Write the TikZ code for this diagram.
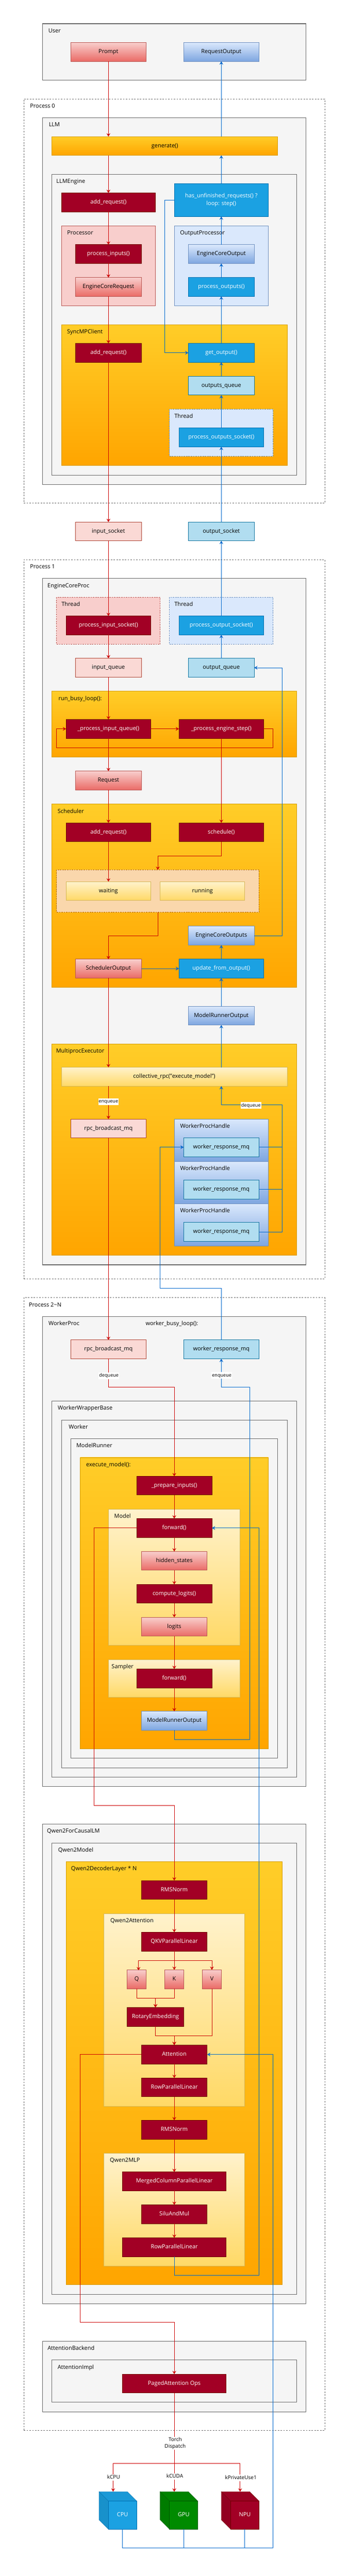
\documentclass[tikz,border=0pt]{standalone}
\usepackage{fontspec}
\setmainfont{Open Sans}
\usetikzlibrary{arrows.meta}

\definecolor{grayfill}{HTML}{F5F5F5}
\definecolor{graydraw}{HTML}{666666}
\definecolor{redtop}{HTML}{F8CECC}
\definecolor{redbot}{HTML}{EA6B66}
\definecolor{reddraw}{HTML}{B85450}
\definecolor{bluetop}{HTML}{DAE8FC}
\definecolor{bluebot}{HTML}{7EA6E0}
\definecolor{bluedraw}{HTML}{6C8EBF}
\definecolor{orgtop}{HTML}{FFCD28}
\definecolor{orgbot}{HTML}{FFA500}
\definecolor{orgdraw}{HTML}{D79B00}
\definecolor{yeltop}{HTML}{FFF2CC}
\definecolor{yelbot}{HTML}{FFD966}
\definecolor{yeldraw}{HTML}{D6B656}
\definecolor{crimson}{HTML}{A20025}
\definecolor{crimsondraw}{HTML}{6F0000}
\definecolor{cyanfill}{HTML}{1BA1E2}
\definecolor{cyandraw}{HTML}{006EAF}
\definecolor{skyfill}{HTML}{B1DDF0}
\definecolor{skydraw}{HTML}{10739E}
\definecolor{rosefill}{HTML}{FAD9D5}
\definecolor{rosedraw}{HTML}{AE4132}
\definecolor{peachfill}{HTML}{FAD7AC}
\definecolor{peachdraw}{HTML}{B46504}
\definecolor{greenfill}{HTML}{008A00}
\definecolor{greendraw}{HTML}{005700}
\definecolor{redline}{HTML}{CC0000}
\definecolor{blueline}{HTML}{0066CC}

\tikzset{
  sz/.style 2 args={minimum width=#1pt,minimum height=#2pt,anchor=north west,inner sep=0pt,outer sep=0pt,line width=1pt,
    font=\fontsize{12}{16}\selectfont,text height=9pt,text depth=3pt},
  processbox/.style={draw=graydraw,line width=.7pt,dash pattern=on 3pt off 3pt},
  graybox/.style={draw=graydraw,fill=grayfill},
  graythick/.style={draw=graydraw,fill=grayfill,line width=1.4pt},
  redgrad/.style={draw=reddraw,top color=redtop,bottom color=redbot},
  bluegrad/.style={draw=bluedraw,top color=bluetop,bottom color=bluebot},
  orgrad/.style={draw=orgdraw,top color=orgtop,bottom color=orgbot},
  yelgrad/.style={draw=yeldraw,top color=yeltop,bottom color=yelbot},
  crimsonbox/.style={draw=crimsondraw,fill=crimson,text=white},
  cyanbox/.style={draw=cyandraw,fill=cyanfill,text=white},
  skybox/.style={draw=skydraw,fill=skyfill},
  rosebox/.style={draw=rosedraw,fill=rosefill},
  redpale/.style={draw=reddraw,fill=redtop},
  bluepale/.style={draw=bluedraw,fill=bluetop},
  threadline/.style={dash pattern=on 3pt off 2pt},
  title/.style={font=\fontsize{12}{16}\selectfont,inner sep=0pt,text height=9pt,text depth=3pt},
  edgelabel/.style={font=\fontsize{11}{15}\selectfont,fill=white,inner sep=1pt,text height=9pt,text depth=3pt},
  queuelabel/.style={edgelabel,font=\fontsize{10}{15}\selectfont},
  rededge/.style={draw=redline,line width=1pt},
  blueedge/.style={draw=blueline,line width=1pt},
  tip/.style={-{Stealth[length=7pt,width=8pt,inset=2.5pt]}},
}

\begin{document}
\begin{tikzpicture}[x=1pt,y=-1pt]
\useasboundingbox (-.5,-.5) rectangle (740.5,5479.5);

% user
\node[sz={560}{120},graybox,line width=1.4pt] (userbox) at (90,50) {};
\node[title] (usertitle) at (115.5,66) {User};
\node[sz={160}{40},redgrad] (prompt) at (150,90) {Prompt};
\node[sz={160}{40},bluegrad] (requestout) at (390,90) {RequestOutput};

% process 0
\node[sz={640}{860},processbox] (proczero) at (50,210) {};
\node[title] (proczerotitle) at (90,226) {Process 0};
\node[sz={560}{780},graythick] (llmbox) at (90,250) {};
\node[title] (llmtitle) at (115,266) {LLM};
\node[sz={480}{40},orgrad] (generate) at (110,290) {generate()};
\node[sz={520}{640},graybox] (enginebox) at (110,370) {};
\node[title] (enginetitle) at (150,386) {LLMEngine};
\node[sz={200}{40},crimsonbox] (llmadd) at (130,410) {add\_request()};
\node[sz={200}{70},cyanbox,align=center,text height=,text depth=] (unfinished) at (370,390) {has\_unfinished\_requests() ?\\loop: step()};
\node[sz={200}{170},redpale] (procbox) at (130,480) {};
\node[title] (proctitle) at (170,496) {Processor};
\node[sz={140}{40},crimsonbox] (procin) at (160,520) {process\_inputs()};
\node[sz={140}{40},redgrad] (corereq) at (160,590) {EngineCoreRequest};
\node[sz={200}{170},bluepale] (outprocbox) at (370,480) {};
\node[title] (outproctitle) at (430,496) {OutputProcessor};
\node[sz={140}{40},bluegrad] (coreout) at (400,520) {EngineCoreOutput};
\node[sz={140}{40},cyanbox] (procout) at (400,590) {process\_outputs()};
\node[sz={480}{300},orgrad] (syncbox) at (130,690) {};
\node[title] (synctitle) at (180,706) {SyncMPClient};
\node[sz={140}{40},crimsonbox] (syncadd) at (160,730) {add\_request()};
\node[sz={140}{40},cyanbox] (getout) at (400,730) {get\_output()};
\node[sz={140}{40},skybox] (outsq) at (400,800) {outputs\_queue};
\node[sz={220}{100},bluepale,threadline] (syncthread) at (360,870) {};
\node[title] (syncthreadtitle) at (390,886) {Thread};
\node[sz={180}{40},cyanbox] (socketfn) at (380,910) {process\_outputs\_socket()};

% sockets
\node[sz={140}{40},rosebox] (insocket) at (160,1110) {input\_socket};
\node[sz={140}{40},skybox] (outsocket) at (400,1110) {output\_socket};

% process 1
\node[sz={640}{1530},processbox] (procone) at (50,1190) {};
\node[title] (proconetitle) at (90,1206) {Process 1};
\node[sz={560}{1460},graythick] (corebox) at (90,1230) {};
\node[title] (coretitle) at (145,1246) {EngineCoreProc};
\node[sz={220}{100},redpale,threadline] (inthread) at (120,1270) {};
\node[title] (inthreadtitle) at (150,1286) {Thread};
\node[sz={180}{40},crimsonbox] (procinsock) at (140,1310) {process\_input\_socket()};
\node[sz={220}{100},bluepale,threadline] (outthread) at (360,1270) {};
\node[title] (outthreadtitle) at (390,1286) {Thread};
\node[sz={180}{40},cyanbox] (procoutsock) at (380,1310) {process\_output\_socket()};
\node[sz={140}{40},rosebox] (inqueue) at (160,1400) {input\_queue};
\node[sz={140}{40},skybox] (outqueue) at (400,1400) {output\_queue};
\node[sz={520}{140},orgrad] (loopbox) at (110,1470) {};
\node[title] (looptitle) at (170,1486) {run\_busy\_loop():};
\node[sz={180}{40},crimsonbox] (inloop) at (140,1530) {\_process\_input\_queue()};
\node[sz={180}{40},crimsonbox] (engstep) at (380,1530) {\_process\_engine\_step()};
\coordinate (loopright) at (580,1590);
\coordinate (loopleft) at (120,1590);
\node[sz={140}{40},redgrad] (request) at (160,1640) {Request};
\node[sz={520}{390},orgrad] (schedbox) at (110,1710) {};
\node[title] (schedtitle) at (150,1726) {Scheduler};
\node[sz={180}{40},crimsonbox] (schedadd) at (140,1750) {add\_request()};
\node[sz={180}{40},crimsonbox] (schedule) at (380,1750) {schedule()};
\node[sz={430}{90},draw=peachdraw,fill=peachfill,threadline] (stategrp) at (120,1850) {};
\node[sz={180}{40},yelgrad] (waiting) at (140,1875) {waiting};
\node[sz={180}{40},yelgrad] (running) at (340,1875) {running};
\node[sz={140}{40},bluegrad] (coreouts) at (400,1970) {EngineCoreOutputs};
\node[sz={140}{40},redgrad] (schedout) at (160,2040) {SchedulerOutput};
\node[sz={180}{40},cyanbox] (update) at (380,2040) {update\_from\_output()};
\node[sz={140}{40},bluegrad] (modelrun) at (400,2140) {ModelRunnerOutput};
\node[sz={520}{450},orgrad] (execbox) at (110,2220) {};
\node[title] (exectitle) at (170,2236) {MultiprocExecutor};
\node[sz={480}{40},yelgrad] (collective) at (130,2270) {collective\_rpc("execute\_model")};
\node[sz={160}{40},rosebox] (rpcmq) at (150,2380) {rpc\_broadcast\_mq};
\node[sz={200}{90},bluegrad] (handleone) at (370,2380) {};
\node[title] (handleonetitle) at (435.5,2396) {WorkerProcHandle};
\node[sz={160}{40},skybox] (mqone) at (390,2420) {worker\_response\_mq};
\node[sz={200}{90},bluegrad] (handletwo) at (370,2470) {};
\node[title] (handletwotitle) at (435.5,2486) {WorkerProcHandle};
\node[sz={160}{40},skybox] (mqtwo) at (390,2510) {worker\_response\_mq};
\node[sz={200}{90},bluegrad] (handlethree) at (370,2560) {};
\node[title] (handlethreetitle) at (435.5,2576) {WorkerProcHandle};
\node[sz={160}{40},skybox] (mqthree) at (390,2600) {worker\_response\_mq};
\coordinate (mqcorner) at (600,2350);

% process 2~N
\node[sz={640}{2410},processbox] (procn) at (50,2760) {};
\node[title] (procntitle) at (95.5,2776) {Process 2\textasciitilde N};
\node[sz={560}{1000},graythick] (workerproc) at (90,2800) {};
\node[title] (workerproctitle) at (135.5,2816) {WorkerProc};
\node[title] (busytitle) at (365,2816) {worker\_busy\_loop():};
\node[sz={160}{40},rosebox] (rpcmqtwo) at (150,2850) {rpc\_broadcast\_mq};
\node[sz={160}{40},skybox] (wresp) at (390,2850) {worker\_response\_mq};
\node[sz={520}{800},graybox] (wrapper) at (110,2980) {};
\node[title] (wrappertitle) at (180.5,2996) {WorkerWrapperBase};
\node[sz={480}{740},graybox] (worker) at (130,3020) {};
\node[title] (workertitle) at (166,3036) {Worker};
\node[sz={440}{680},graybox] (runner) at (150,3060) {};
\node[title] (runnertitle) at (200,3076) {ModelRunner};
\node[sz={400}{620},orgrad] (execmodel) at (170,3100) {};
\node[title] (execmodeltitle) at (230,3116) {execute\_model():};
\node[sz={160}{40},crimsonbox] (prepare) at (290,3140) {\_prepare\_inputs()};
\node[sz={280}{290},yelgrad] (modelbox) at (230,3210) {};
\node[title] (modeltitle) at (260,3226) {Model};
\node[sz={160}{40},crimsonbox] (forward) at (290,3230) {forward()};
\node[sz={140}{40},redgrad] (hidden) at (300,3300) {hidden\_states};
\node[sz={160}{40},crimsonbox] (logitsfn) at (290,3370) {compute\_logits()};
\node[sz={140}{40},redgrad] (logits) at (300,3440) {logits};
\node[sz={280}{80},yelgrad] (sampler) at (230,3530) {};
\node[title] (samplertitle) at (260,3546) {Sampler};
\node[sz={160}{40},crimsonbox] (sampfwd) at (290,3550) {forward()};
\node[sz={140}{40},bluegrad] (modelout) at (300,3640) {ModelRunnerOutput};
\coordinate (enqcorner) at (530,2950);
\coordinate (fwdright) at (550,3250);
\coordinate (redbusone) at (200,3840);

% qwen2
\node[sz={560}{1020},graythick] (causal) at (90,3880) {};
\node[title] (causaltitle) at (155.5,3896) {Qwen2ForCausalLM};
\node[sz={520}{960},graybox] (qwenmodel) at (110,3920) {};
\node[title] (qwenmodeltitle) at (160.5,3936) {Qwen2Model};
\node[sz={460}{900},orgrad] (decoder) at (140,3960) {};
\node[title] (decodertitle) at (220.5,3976) {Qwen2DecoderLayer * N};
\node[sz={140}{40},crimsonbox] (rmsa) at (300,4000) {RMSNorm};
\node[sz={300}{410},yelgrad] (attnbox) at (220,4070) {};
\node[title] (attntitle) at (280,4086) {Qwen2Attention};
\node[sz={140}{40},crimsonbox] (qkv) at (300,4110) {QKVParallelLinear};
\node[sz={40}{40},redgrad] (qbox) at (270,4190) {Q};
\node[sz={40}{40},redgrad] (kbox) at (350,4190) {K};
\node[sz={40}{40},redgrad] (vbox) at (430,4190) {V};
\coordinate (qtop) at (294,4191);
\node[sz={120}{40},crimsonbox] (rotary) at (270,4270) {RotaryEmbedding};
\node[sz={140}{40},crimsonbox] (attn) at (300,4350) {Attention};
\node[sz={140}{40},crimsonbox] (rowa) at (300,4420) {RowParallelLinear};
\node[sz={140}{40},crimsonbox] (rmsb) at (300,4510) {RMSNorm};
\node[sz={300}{240},yelgrad] (mlpbox) at (220,4580) {};
\node[title] (mlptitle) at (265,4596) {Qwen2MLP};
\node[sz={220}{40},crimsonbox] (merged) at (260,4620) {MergedColumnParallelLinear};
\node[sz={140}{40},crimsonbox] (silu) at (300,4690) {SiluAndMul};
\node[sz={220}{40},crimsonbox] (rowb) at (260,4760) {RowParallelLinear};
\coordinate (redbustwo) at (170,4940);

% attention backend
\node[sz={560}{150},graythick] (backend) at (90,4980) {};
\node[title] (backendtitle) at (150.5,4996) {AttentionBackend};
\node[sz={520}{90},graybox] (attnimpl) at (110,5020) {};
\node[title] (attnimpltitle) at (160.5,5036) {AttentionImpl};
\node[sz={220}{40},crimsonbox] (paged) at (260,5050) {PagedAttention Ops};
\coordinate (split) at (370,5240);
\coordinate (devcorner) at (580,5420);

% devices
\filldraw[draw=cyandraw,fill=cyanfill!90!black] (210,5300) -- (230,5320) -- (230,5380) -- (210,5360) -- cycle;
\filldraw[draw=cyandraw,fill=cyanfill!95!black] (210,5300) -- (270,5300) -- (290,5320) -- (230,5320) -- cycle;
\node[sz={60}{60},cyanbox] (cpu) at (230,5320) {CPU};
\coordinate (cputop) at (240,5300);
\filldraw[draw=greendraw,fill=greenfill!90!black] (340,5300) -- (360,5320) -- (360,5380) -- (340,5360) -- cycle;
\filldraw[draw=greendraw,fill=greenfill!95!black] (340,5300) -- (400,5300) -- (420,5320) -- (360,5320) -- cycle;
\node[sz={60}{60},draw=greendraw,fill=greenfill,text=white] (gpu) at (360,5320) {GPU};
\coordinate (gputop) at (370,5300);
\filldraw[draw=crimsondraw,fill=crimson!90!black] (470,5300) -- (490,5320) -- (490,5380) -- (470,5360) -- cycle;
\filldraw[draw=crimsondraw,fill=crimson!95!black] (470,5300) -- (530,5300) -- (550,5320) -- (490,5320) -- cycle;
\node[sz={60}{60},crimsonbox] (npu) at (490,5320) {NPU};
\coordinate (nputop) at (510,5300);

% red path
\draw[rededge,tip] (prompt.south) -- (prompt.south |- generate.north);
\draw[rededge,tip] (prompt.south |- generate.south) -- (llmadd.north);
\draw[rededge,tip] (llmadd.south) -- (procin.north);
\draw[rededge,tip] (procin.south) -- (corereq.north);
\draw[rededge,tip] (corereq.south) -- (syncadd.north);
\draw[rededge,tip] (syncadd.south) -- (insocket.north);
\draw[rededge,tip] (insocket.south) -- (procinsock.north);
\draw[rededge,tip] (procinsock.south) -- (inqueue.north);
\draw[rededge,tip] (inqueue.south) -- (inloop.north);
\draw[rededge,tip] (inloop.east) -- (engstep.west);
\draw[rededge,tip] (engstep.east) -| (loopright) -- (loopleft) |- (inloop.west);
\draw[rededge,tip] (inloop.south) -- (request.north);
\draw[rededge,tip] (engstep.south) -- (schedule.north);
\draw[rededge,tip] (request.south) -- (schedadd.north);
\draw[rededge,tip] (schedadd.south) -- (waiting.north);
\draw[rededge,tip] (schedule.south) -- ++(0,30) -| (stategrp.north);
\draw[rededge,tip] (stategrp.south) -- ++(0,50) -| (schedout.north);
\draw[rededge,tip] (schedout.south) -- (schedout.south |- collective.north);
\draw[rededge,tip] (schedout.south |- collective.south) -- (rpcmq.north);
\draw[rededge,tip] (rpcmq.south) -- (rpcmqtwo.north);
\draw[rededge,tip] (rpcmqtwo.south) -- ++(0,60) -| (prepare.north);
\draw[rededge,tip] (prepare.south) -- (forward.north);
\draw[rededge,tip] (forward.south) -- (hidden.north);
\draw[rededge,tip] (hidden.south) -- (logitsfn.north);
\draw[rededge,tip] (logitsfn.south) -- (logits.north);
\draw[rededge,tip] (logits.south) -- (sampfwd.north);
\draw[rededge,tip] (sampfwd.south) -- (modelout.north);
\draw[rededge,tip] (forward.west) -| (redbusone) -| (rmsa.north);
\draw[rededge,tip] (rmsa.south) -- (qkv.north);
\draw[rededge,tip] (qkv.south) -- (kbox.north);
\draw[rededge,tip] (qkv.south) -- ++(0,20) -| (qtop);
\draw[rededge,tip] (qkv.south) -- ++(0,20) -| (vbox.north);
\draw[rededge,tip] (qbox.south) -- ++(0,20) -| (rotary.north);
\draw[rededge,tip] (kbox.south) -- ++(0,20) -| (rotary.north);
\draw[rededge,tip] (rotary.south) -- ++(0,20) -| (attn.north);
\draw[rededge,tip] (vbox.south) -- ++(0,100) -| (attn.north);
\draw[rededge,tip] (attn.south) -- (rowa.north);
\draw[rededge,tip] (rowa.south) -- (rmsb.north);
\draw[rededge,tip] (rmsb.south) -- (merged.north);
\draw[rededge,tip] (merged.south) -- (silu.north);
\draw[rededge,tip] (silu.south) -- (rowb.north);
\draw[rededge,tip] (attn.west) -| (redbustwo) -| (paged.north);
\draw[rededge,tip] (paged.south) -- (gputop);
\draw[rededge,tip] (split) -| (cputop);
\draw[rededge,tip] (split) -| (nputop);

% blue path
\draw[blueedge,tip] (devcorner) |- (attn.east);
\draw[blueedge] (cpu.south) |- (devcorner);
\draw[blueedge] (gpu.south) -- (gpu.south |- devcorner);
\draw[blueedge] (npu.south) -- (npu.south |- devcorner);
\draw[blueedge,tip] (rowb.south) -- ++(0,40) -| (fwdright) -- (forward.east);
\draw[blueedge,tip] (modelout.south) -- ++(0,20) -| (enqcorner) -| (wresp.south);
\draw[blueedge,tip] (wresp.north) -- ++(0,-110) -- ++(-130,0) |- (mqone.west);
\draw[blueedge] (mqone.east) -- (mqone.east -| mqcorner);
\draw[blueedge] (mqtwo.east) -- (mqtwo.east -| mqcorner);
\draw[blueedge,tip] (mqthree.east) -| (mqcorner) -| (modelrun.south |- collective.south);
\draw[blueedge,tip] (modelrun.south |- collective.north) -- (modelrun.south);
\draw[blueedge,tip] (modelrun.north) -- (update.south);
\draw[blueedge,tip] (schedout.east) -- (update.west);
\draw[blueedge,tip] (update.north) -- (coreouts.south);
\draw[blueedge,tip] (coreouts.east) -- ++(60,0) |- (outqueue.east);
\draw[blueedge,tip] (outqueue.north) -- (procoutsock.south);
\draw[blueedge,tip] (procoutsock.north) -- (outsocket.south);
\draw[blueedge,tip] (outsocket.north) -- (socketfn.south);
\draw[blueedge,tip] (socketfn.north) -- (outsq.south);
\draw[blueedge,tip] (outsq.north) -- (getout.south);
\draw[blueedge,tip] (getout.north) -- (procout.south);
\draw[blueedge,tip] (procout.north) -- (coreout.south);
\draw[blueedge,tip] (coreout.north) -- (unfinished.south);
\draw[blueedge,tip] (unfinished.west) -- ++(-20,0) |- (getout.west);
\draw[blueedge,tip] (unfinished.north) -- (unfinished.north |- generate.south);
\draw[blueedge,tip] (unfinished.north |- generate.north) -- (requestout.south);

% edge labels
\node[queuelabel] (enqa) at (230,2343) {enqueue};
\node[queuelabel] (deqa) at (533,2351) {dequeue};
\node[queuelabel] (deqb) at (231,2926) {dequeue};
\node[queuelabel] (enqb) at (471,2925) {enqueue};
\node[edgelabel,align=center,text height=,text depth=] (dispatch) at (372,5197) {Torch\\Dispatch};
\node[edgelabel] (kcpu) at (241,5270) {kCPU};
\node[edgelabel] (kcuda) at (371,5268) {kCUDA};
\node[edgelabel] (kprivate) at (511.5,5271) {kPrivateUse1};
\end{tikzpicture}
\end{document}
